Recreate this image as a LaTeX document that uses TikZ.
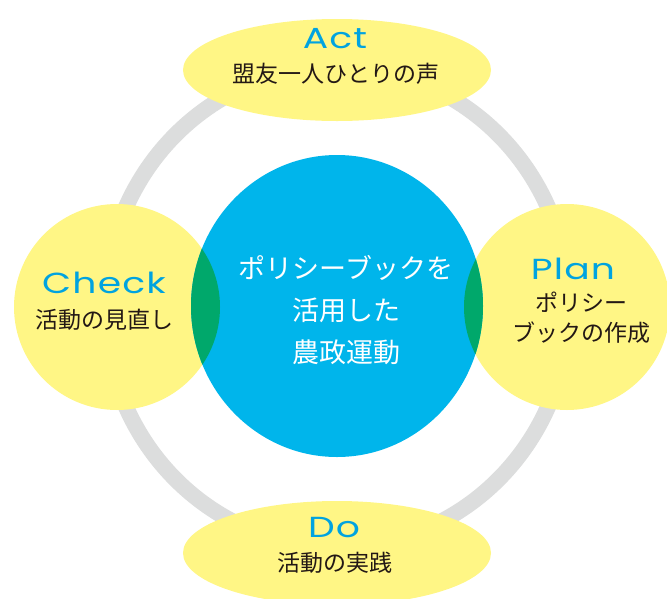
\documentclass[tikz,border=0pt]{standalone}
\usepackage{fontspec}
\setmainfont{Noto Sans CJK JP}
\newfontfamily\latinlbl[FakeStretch=1.3,LetterSpace=4]{Poppins}
\definecolor{ringgray}{HTML}{DCDDDD}
\definecolor{petal}{HTML}{FFF685}
\definecolor{core}{HTML}{00B5EB}
\definecolor{lens}{HTML}{00A86B}
\definecolor{labelblue}{HTML}{00A3E0}
\definecolor{jptext}{HTML}{231815}
\begin{document}
\begin{tikzpicture}[x=1pt,y=-1pt,
  lat/.style={inner sep=0pt, text=labelblue, font=\latinlbl\fontsize{29}{32}\selectfont},
  jp/.style={inner sep=0pt, text=jptext, align=center, font=\fontsize{23}{30}\selectfont},
  coretext/.style={inner sep=0pt, text=white, align=center, font=\fontsize{27}{42}\selectfont}]
\useasboundingbox (0,0) rectangle (667,598);
% ring
\draw[ringgray, line width=16pt] (337,307) ellipse [x radius=232pt, y radius=240pt];
% petals
\fill[petal] (337,70) ellipse [x radius=154pt, y radius=51pt];
\fill[petal] (337,553) ellipse [x radius=154pt, y radius=52pt];
\fill[petal] (117,307) circle [radius=103pt];
\fill[petal] (567,307) circle [radius=103pt];
% core
\fill[core] (337,306) ellipse [x radius=146pt, y radius=151pt];
\begin{scope}
  \clip (337,306) ellipse [x radius=146pt, y radius=151pt];
  \fill[lens] (117,307) circle [radius=103pt] (567,307) circle [radius=103pt];
\end{scope}
% texts
\node[lat] (act) at (335,39) {Act};
\node[jp] (actj) at (336,74) {盟友一人ひとりの声};
\node[lat] (check) at (104,283) {Check};
\node[jp] (checkj) at (104,320) {活動の見直し};
\node[lat] (plan) at (573,269) {Plan};
\node[jp, font=\fontsize{23}{30}\selectfont] (planj) at (581,318) {ポリシー\\ブックの作成};
\node[lat] (do) at (334,528) {Do};
\node[jp] (doj) at (335,563) {活動の実践};
\node[coretext] (centre) at (346,310) {ポリシーブックを\\活用した\\農政運動};
\end{tikzpicture}
\end{document}
